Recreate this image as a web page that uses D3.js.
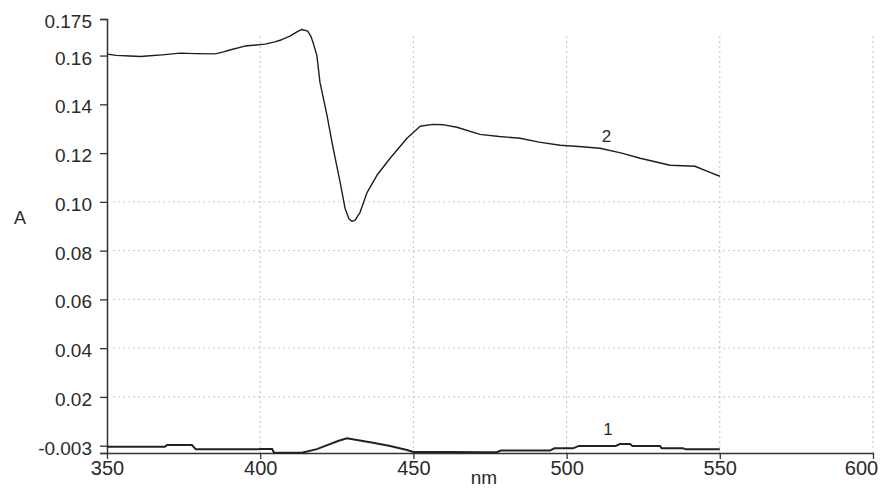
<!DOCTYPE html>
<html>
<head>
<meta charset="utf-8">
<script src="https://cdn.jsdelivr.net/npm/d3@7"></script>
<style>
    body { margin: 0; background: #fff; }
    text { font-family: "Liberation Sans", Arial, sans-serif; fill: #2a2a2a; }
</style>
</head>
<body>
<div id="spectrum"></div>
<script>
// wavelengths (nm) and absorbance
let curve2Nm = [350, 353, 357.5, 361, 364, 368, 373.8, 379, 385.3, 388, 390.1, 395, 401.6, 404.8, 407, 409.7, 412,
    413.6, 415.5, 416.5, 417.2, 418.5, 419.5, 421.8, 423.8, 426.1, 427.7, 429, 430, 431, 432.6, 434.9, 438.1,
    442.4, 447.9, 452.2, 456.4, 460, 464.2, 471.7, 478, 484.8, 491, 497.9, 504, 510.9, 518, 524, 533.8, 541.9, 546.8, 550];
let curve2A = [0.1606, 0.1601, 0.1598, 0.1596, 0.1599, 0.1603, 0.1610, 0.1608, 0.1607, 0.1615, 0.1623, 0.1639, 0.1647, 0.1656, 0.1665, 0.1680, 0.1697,
    0.1707, 0.1700, 0.1680, 0.1656, 0.1600, 0.1491, 0.1355, 0.1220, 0.1080, 0.0973, 0.0930, 0.0920, 0.0925, 0.0957, 0.1039, 0.1109,
    0.1179, 0.1261, 0.1310, 0.1318, 0.1316, 0.1306, 0.1277, 0.1268, 0.1261, 0.1245, 0.1232, 0.1227, 0.1220, 0.1200, 0.1179, 0.1150, 0.1146, 0.1121, 0.1105];

let curve1Nm = [350, 368.9, 369.6, 377.7, 379, 399.3, 400.3, 403.9, 404.5, 413.6, 418.5, 425.4, 428.3, 436.8, 442.4, 447.9, 450,
    462, 471.8, 477.3, 478.5, 494.6, 496, 502.1, 504, 516, 517.4, 520.7, 521.5, 530.5, 531, 538, 539, 550];
let curve1A = [-0.0004, -0.0004, 0.0003, 0.0003, -0.0015, -0.0015, -0.0014, -0.0014, -0.0029, -0.0029, -0.0014, 0.0019, 0.0030, 0.0012, -0.0001, -0.0018, -0.0026,
    -0.0026, -0.0027, -0.0027, -0.0020, -0.0020, -0.0011, -0.0011, -0.0001, -0.0001, 0.0007, 0.0007, -0.0001, -0.0001, -0.0011, -0.0011, -0.0015, -0.0015];

let xTicks = [350, 400, 450, 500, 550, 600];
// the scan labels the tick at 0 as "-0.003"; the axis itself ends at -0.003
let yTicks = [-0.003, 0, 0.02, 0.04, 0.06, 0.08, 0.10, 0.12, 0.14, 0.16, 0.175];
let yTickLabels = ["", "-0.003", "0.02", "0.04", "0.06", "0.08", "0.10", "0.12", "0.14", "0.16", "0.175"];
let gridX = [400, 450, 500, 550, 600];
let gridY = [0.02, 0.04, 0.06, 0.08, 0.10];

let seriesLabels = ["2", "1"];
let seriesLabelNm = [513, 513.5];
let seriesLabelA = [0.1246, 0.0045];

function drawSpectrum() {
    let width = 881;
    let height = 488;

    let svg = d3.select("#spectrum")
        .append("svg")
        .attr("width", width)
        .attr("height", height);

    let x = d3.scaleLinear()
        .domain([350, 600])
        .range([107, 873]);

    let y = d3.scaleLinear()
        .domain([-0.003, 0.175])
        .range([453, 19]);

    // faint dotted grid like the recorder paper
    svg.selectAll(".gx")
        .data(gridX)
        .enter()
        .append("line")
        .attr("class", "gx")
        .attr("x1", d => x(d))
        .attr("x2", d => x(d))
        .attr("y1", y(0.168))
        .attr("y2", y(-0.003))
        .attr("stroke", "#bdbdbd")
        .attr("stroke-width", 1)
        .attr("stroke-dasharray", "2,3");

    svg.selectAll(".gy")
        .data(gridY)
        .enter()
        .append("line")
        .attr("class", "gy")
        .attr("x1", x(352))
        .attr("x2", x(600))
        .attr("y1", d => y(d))
        .attr("y2", d => y(d))
        .attr("stroke", "#c4c4c4")
        .attr("stroke-width", 1)
        .attr("stroke-dasharray", "2,3");

    // axes
    let yAxis = d3.axisLeft(y)
        .tickValues(yTicks)
        .tickSize(7)
        .tickFormat((d, i) => yTickLabels[i]);

    let gy = svg.append("g")
        .attr("transform", "translate(" + x(350) + ",0)")
        .call(yAxis);
    gy.select(".domain").attr("stroke", "#333").attr("stroke-width", 1.5);
    gy.selectAll(".tick line").attr("stroke", "#333").attr("stroke-width", 1.3);
    gy.selectAll(".tick text")
        .attr("x", -15)
        .attr("dy", "0.45em")
        .style("font-size", "19px")
        .style("font-family", "Liberation Sans, Arial, sans-serif")
        .attr("fill", "#2a2a2a");

    let xAxis = d3.axisBottom(x)
        .tickValues(xTicks)
        .tickSize(6)
        .tickSizeOuter(0)
        .tickFormat(d3.format("d"));

    let gx = svg.append("g")
        .attr("transform", "translate(0," + y(-0.003) + ")")
        .call(xAxis);
    gx.select(".domain").attr("stroke", "#333").attr("stroke-width", 1.5);
    gx.selectAll(".tick line").attr("stroke", "#333").attr("stroke-width", 1.3);
    gx.selectAll(".tick text")
        .attr("y", 6)
        .attr("dy", "0.78em")
        .style("font-size", "20px")
        .style("font-family", "Liberation Sans, Arial, sans-serif")
        .attr("fill", "#2a2a2a");
    // last label sits inside the page edge, as on the scan
    gx.selectAll(".tick text")
        .filter(d => d === 600)
        .attr("x", -12);

    // axis titles
    svg.append("text")
        .attr("x", 20)
        .attr("y", 224)
        .attr("text-anchor", "middle")
        .style("font-size", "18px")
        .text("A");

    svg.append("text")
        .attr("x", 484)
        .attr("y", 484)
        .attr("text-anchor", "middle")
        .style("font-size", "19px")
        .text("nm");

    // spectra
    let line = d3.line()
        .x(d => x(d[0]))
        .y(d => y(d[1]));

    svg.append("path")
        .datum(d3.zip(curve1Nm, curve1A))
        .attr("fill", "none")
        .attr("stroke", "#222")
        .attr("stroke-width", 2)
        .attr("d", line);

    svg.append("path")
        .datum(d3.zip(curve2Nm, curve2A))
        .attr("fill", "none")
        .attr("stroke", "#1e1e1e")
        .attr("stroke-width", 1.4)
        .attr("stroke-linejoin", "round")
        .attr("d", line);

    svg.selectAll(".slabel")
        .data(seriesLabels)
        .enter()
        .append("text")
        .attr("class", "slabel")
        .attr("x", (d, i) => x(seriesLabelNm[i]))
        .attr("y", (d, i) => y(seriesLabelA[i]))
        .attr("text-anchor", "middle")
        .style("font-size", "17px")
        .text(d => d);
}

window.onload = () => {
    drawSpectrum();
}
</script>
</body>
</html>
